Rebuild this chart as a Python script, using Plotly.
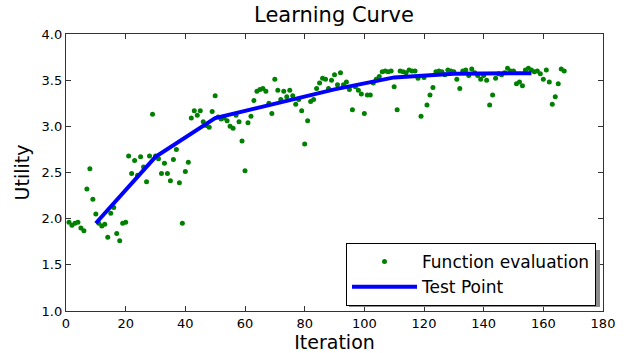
import plotly.graph_objects as go

iterations = list(range(1, 168))
utility = [
    1.96, 1.93, 1.95, 1.96, 1.90, 1.87, 2.32, 2.54, 2.21, 2.05,
    1.95, 1.92, 1.94, 1.80, 2.06, 2.12, 1.84, 1.76, 1.95, 1.96,
    2.68, 2.49, 2.63, 2.47, 2.67, 2.56, 2.40, 2.68, 3.13, 2.68,
    2.65, 2.49, 2.60, 2.49, 2.41, 2.64, 2.75, 2.39, 1.95, 2.51,
    2.61, 3.09, 3.17, 3.12, 3.17, 3.05, 3.01, 2.99, 3.16, 3.33,
    3.10, 3.08, 3.09, 3.06, 3.00, 2.98, 3.12, 3.05, 2.84, 2.52,
    3.04, 3.11, 3.28, 3.38, 3.40, 3.41, 3.38, 3.25, 3.14, 3.51,
    3.39, 3.29, 3.38, 3.32, 3.39, 3.33, 3.24, 3.29, 3.17, 2.81,
    3.06, 3.27, 3.29, 3.41, 3.47, 3.52, 3.51, 3.41, 3.50, 3.56,
    3.45, 3.58, 3.45, 3.48, 3.40, 3.18, 3.43, 3.39, 3.35, 3.14,
    3.34, 3.34, 3.47, 3.51, 3.54, 3.59, 3.60, 3.59, 3.60, 3.43,
    3.18, 3.60, 3.59, 3.58, 3.61, 3.60, 3.60, 3.52, 3.11, 3.53,
    3.23, 3.34, 3.42, 3.59, 3.60, 3.59, 3.56, 3.61, 3.60, 3.59,
    3.51, 3.41, 3.60, 3.61, 3.55, 3.62, 3.58, 3.55, 3.51, 3.55,
    3.50, 3.23, 3.34, 3.52, 3.57, 3.56, 3.58, 3.63, 3.60, 3.60,
    3.46, 3.48, 3.44, 3.61, 3.63, 3.61, 3.59, 3.60, 3.57, 3.51,
    3.61, 3.48, 3.24, 3.32, 3.46, 3.62, 3.60,
]

test_iterations = [10, 30, 50, 70, 90, 110, 130, 150, 156]
test_utility = [1.95, 2.67, 3.09, 3.25, 3.40, 3.53, 3.57, 3.575, 3.575]

x_ticks = [0, 20, 40, 60, 80, 100, 120, 140, 160, 180]
y_ticks = [1.0, 1.5, 2.0, 2.5, 3.0, 3.5, 4.0]

FONT = "DejaVu Sans"

fig = go.Figure()
fig.add_trace(go.Scatter(
    x=iterations, y=utility, mode="markers",
    marker=dict(color="#008000", size=5, line=dict(width=0)),
    name="Function evaluation",
))
fig.add_trace(go.Scatter(
    x=test_iterations, y=test_utility, mode="lines",
    line=dict(color="#0000ff", width=4),
    name="Test Point",
))

L, R, T, B = 66, 23, 34, 42
W, H = 626, 353
pw, ph = W - L - R, H - T - B

def px_to_paper(x, y):
    return (x - L) / pw, (H - B - y) / ph

# legend shadow
sx0, sy0 = px_to_paper(349, 307)
sx1, sy1 = px_to_paper(600, 250)
fig.add_shape(type="rect", xref="paper", yref="paper",
              x0=sx0, y0=sy0, x1=sx1, y1=sy1,
              fillcolor="#8c8c8c", line=dict(width=0), layer="above")

lx, ly = px_to_paper(596, 306)

fig.update_layout(
    width=W, height=H,
    margin=dict(l=L, r=R, t=T, b=B, autoexpand=False),
    paper_bgcolor="white", plot_bgcolor="white",
    font=dict(family=FONT, color="black", size=13),
    title=dict(text="Learning Curve", x=334 / W, xanchor="center",
               y=1 - 15 / H, yanchor="middle", font=dict(size=21, family=FONT)),
    showlegend=True,
    legend=dict(x=lx, y=ly, xanchor="right", yanchor="bottom",
                bgcolor="white", bordercolor="black", borderwidth=1,
                font=dict(size=17, family=FONT), itemwidth=65,
                tracegroupgap=0),
    xaxis=dict(range=[0, 180], tickmode="array", tickvals=x_ticks,
               ticktext=[str(v) for v in x_ticks],
               ticks="inside", ticklen=5, tickcolor="#333",
               showline=True, linecolor="#333", linewidth=1.3, mirror="ticks",
               showgrid=False, zeroline=False, automargin=False,
               title=dict(text="Iteration", font=dict(size=19), standoff=6),
               tickfont=dict(size=13)),
    yaxis=dict(range=[1.0, 4.0], tickmode="array", tickvals=y_ticks,
               ticktext=[f"{v:.1f}" for v in y_ticks],
               ticks="inside", ticklen=5, tickcolor="#333",
               showline=True, linecolor="#333", linewidth=1.3, mirror="ticks",
               showgrid=False, zeroline=False, automargin=False,
               title=dict(text="Utility", font=dict(size=19), standoff=6),
               tickfont=dict(size=13)),
)

fig.write_html("out.html")
